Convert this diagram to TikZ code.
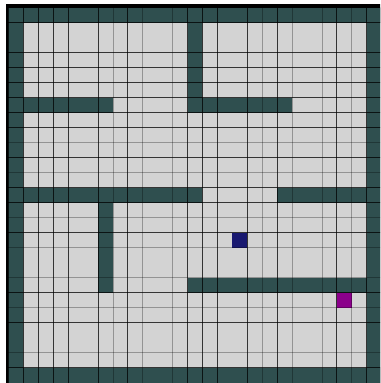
\documentclass[tikz,border=0pt]{standalone}
\definecolor{wallc}{HTML}{2F4F4F}
\definecolor{floorc}{HTML}{D3D3D3}
\definecolor{agentc}{HTML}{191970}
\definecolor{goalc}{HTML}{8B008B}
\tikzset{
  darkline/.style={draw=black,line width=0.6pt,opacity=0.75},
  greyline/.style={draw=black,line width=0.6pt,opacity=0.3}
}
\newcommand\mzX[1]{8.4+14.93*(#1)}
\newcommand\mzY[1]{7.7+15*(#1)}
\newcommand\mzblock[5]{\fill[#5] ({\mzX{#1}},{\mzY{#2}}) rectangle ({\mzX{#3+1}},{\mzY{#4+1}});}
\begin{document}
\begin{tikzpicture}[x=0.75pt,y=-0.75pt]
\useasboundingbox (0,0) rectangle (380,383);
\clip (0,0) rectangle (380,383);
\fill[white] (0,0) rectangle (380,383);
\fill[black] (5.7,4) rectangle (390,390);
\fill[floorc] ({\mzX{0}},{\mzY{0}}) rectangle (390,390);
% outer walls
\mzblock{0}{0}{25}{0}{wallc}
\mzblock{0}{24}{25}{25}{wallc}
\mzblock{0}{0}{0}{25}{wallc}
\mzblock{24}{0}{25}{25}{wallc}
% inner walls
\mzblock{1}{6}{6}{6}{wallc}
\mzblock{12}{1}{12}{6}{wallc}
\mzblock{12}{6}{18}{6}{wallc}
\mzblock{1}{12}{12}{12}{wallc}
\mzblock{18}{12}{23}{12}{wallc}
\mzblock{6}{13}{6}{18}{wallc}
\mzblock{12}{18}{23}{18}{wallc}
% agent and goal
\mzblock{15}{15}{15}{15}{agentc}
\mzblock{22}{19}{22}{19}{goalc}
% vertical grid lines
\foreach \i in {0,1,2,3,4,6,8,12,13,14,16,18,22,24}{
  \draw[darkline] ({\mzX{\i}},{\mzY{0}}) -- ({\mzX{\i}},390);
}
\foreach \i in {7,9,11,17,19,21,23}{
  \draw[greyline] ({\mzX{\i}},{\mzY{0}}) -- ({\mzX{\i}},390);
}
% horizontal grid lines
\foreach \j in {0,1,3,4,5,6,7,8,10,12,13,15,19,21,24}{
  \draw[darkline] ({\mzX{0}},{\mzY{\j}}) -- (390,{\mzY{\j}});
}
\foreach \j in {9,11,14,16,18,20,23}{
  \draw[greyline] ({\mzX{0}},{\mzY{\j}}) -- (390,{\mzY{\j}});
}
\end{tikzpicture}
\end{document}
